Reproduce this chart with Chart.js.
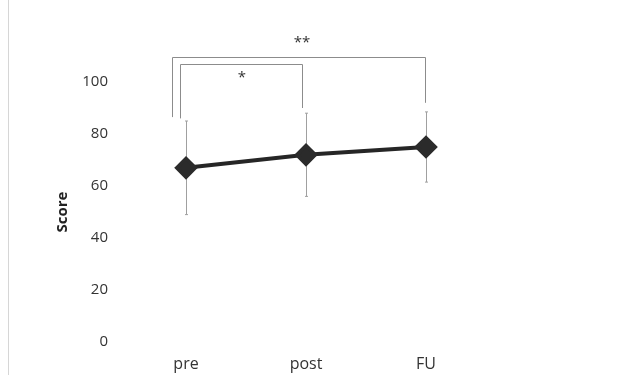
<!DOCTYPE html>
<html>
<head>
<meta charset="utf-8">
<script src="https://cdn.jsdelivr.net/npm/chart.js@4"></script>
<style>
  html, body { margin: 0; padding: 0; background: #fff; }
  #wrap { position: relative; width: 639px; height: 375px; }
  #edge { position: absolute; left: 8px; top: 0; width: 1px; height: 375px; background: #d6d6d6; }
</style>
</head>
<body>
<div id="wrap">
  <div id="edge"></div>
  <canvas id="c" width="639" height="375"></canvas>
</div>
<script>
// ---- data ----
const categories = ['pre', 'post', 'FU'];
const means = [67, 72, 75];
const sds = [18, 16, 13.5];
const yMin = 0;
const yMax = 100;
const yStep = 20;
// significance comparisons: [fromIndex, toIndex, label]
const comparisons = [[0, 2, '**'], [0, 1, '*']];

// ---- bracket styling (data-unit heights, pixel offsets) ----
const bracketStyle = [
  { top: 109.6, leftBottom: 86.5, rightBottom: 92, dxL: -14, dxR: -1, labelY: 115, labelDx: -4 },
  { top: 107, leftBottom: 86, rightBottom: 90, dxL: -6, dxR: -4, labelY: 101.5, labelDx: -4 }
];

const overlay = {
  id: 'overlay',
  beforeDatasetsDraw(chart) {
    const { ctx, scales: { x, y } } = chart;
    ctx.save();
    ctx.strokeStyle = '#a0a0a0';
    ctx.lineWidth = 1;
    means.forEach((m, i) => {
      const px = Math.round(x.getPixelForValue(i)) + 0.5;
      const t = y.getPixelForValue(m + sds[i]);
      const b = y.getPixelForValue(m - sds[i]);
      ctx.beginPath();
      ctx.moveTo(px, t); ctx.lineTo(px, b);
      ctx.moveTo(px - 1.5, t); ctx.lineTo(px + 1.5, t);
      ctx.moveTo(px - 1.5, b); ctx.lineTo(px + 1.5, b);
      ctx.stroke();
    });
    ctx.restore();
  },
  afterDatasetsDraw(chart) {
    const { ctx, scales: { x, y } } = chart;
    ctx.save();
    ctx.strokeStyle = '#8c8c8c';
    ctx.lineWidth = 1;
    comparisons.forEach((c, k) => {
      const s = bracketStyle[k];
      const xl = Math.round(x.getPixelForValue(c[0]) + s.dxL) + 0.5;
      const xr = Math.round(x.getPixelForValue(c[1]) + s.dxR) + 0.5;
      const yt = Math.round(y.getPixelForValue(s.top)) + 0.5;
      ctx.beginPath();
      ctx.moveTo(xl, y.getPixelForValue(s.leftBottom));
      ctx.lineTo(xl, yt);
      ctx.lineTo(xr, yt);
      ctx.lineTo(xr, y.getPixelForValue(s.rightBottom));
      ctx.stroke();
      ctx.fillStyle = '#333';
      ctx.font = '15px "Open Sans"';
      ctx.textAlign = 'center';
      ctx.textBaseline = 'middle';
      const lx = (x.getPixelForValue(c[0]) + x.getPixelForValue(c[1])) / 2 + s.labelDx;
      ctx.fillText(c[2], lx, y.getPixelForValue(s.labelY));
    });
    ctx.restore();
  }
};

new Chart(document.getElementById('c'), {
  type: 'line',
  data: {
    labels: categories,
    datasets: [{
      data: means,
      borderColor: '#262626',
      borderWidth: 4,
      pointStyle: 'rectRot',
      pointRadius: 9,
      pointHoverRadius: 9,
      pointBackgroundColor: '#2b2b2b',
      pointBorderColor: '#2b2b2b',
      tension: 0
    }]
  },
  options: {
    responsive: false,
    animation: false,
    events: [],
    layout: { padding: { left: 50, right: 153, top: 82, bottom: 0 } },
    plugins: { legend: { display: false }, tooltip: { enabled: false } },
    scales: {
      x: {
        offset: true,
        grid: { display: false, drawTicks: false },
        border: { display: false },
        ticks: { color: '#333', font: { family: 'Open Sans', size: 16 }, padding: 13 },
        afterFit(s) { s.height = 33; }
      },
      y: {
        min: yMin, max: yMax,
        grid: { display: false, drawTicks: false },
        border: { display: false },
        ticks: { stepSize: yStep, color: '#333', font: { family: 'Open Sans', size: 15 }, padding: 18 },
        title: { display: true, text: 'Score', color: '#222', font: { family: 'Open Sans', size: 15, weight: 'bold' }, padding: { top: 4, bottom: 0 } },
        afterFit(s) { s.width = 76; }
      }
    }
  },
  plugins: [overlay]
});
</script>
</body>
</html>
